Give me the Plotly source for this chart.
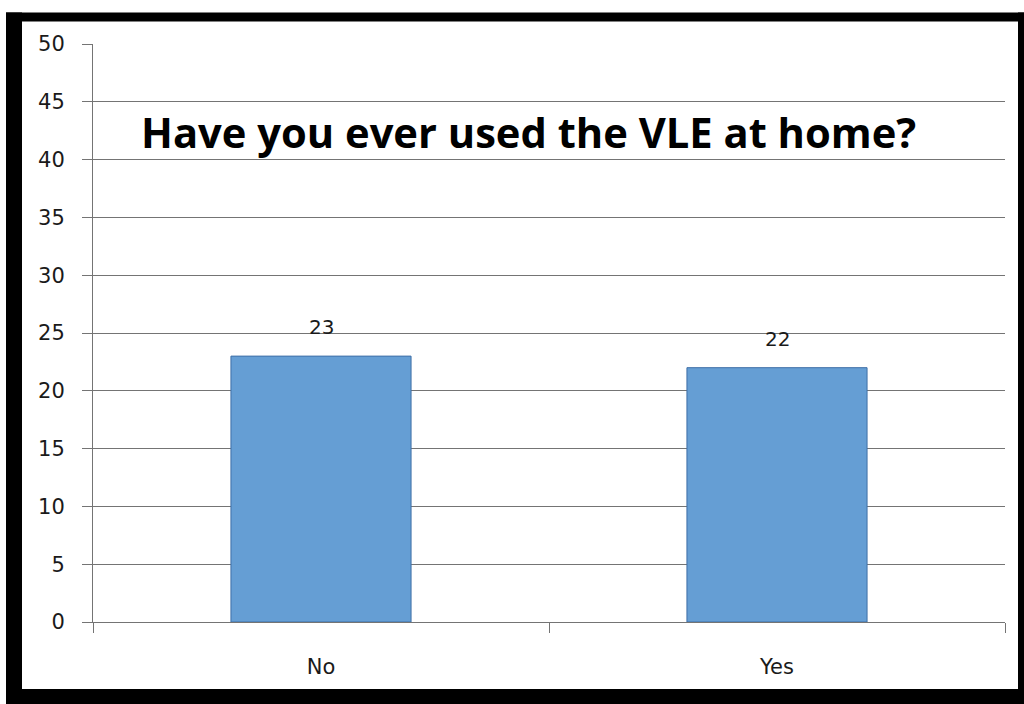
import plotly.graph_objects as go

# Survey answers and counts
categories = ["No", "Yes"]
counts = [23, 22]
y_ticks = [0, 5, 10, 15, 20, 25, 30, 35, 40, 45, 50]
title_text = "Have you ever used the VLE at home?"

W, H = 1024, 704
L, R, T, B = 93, 19, 43.5, 82
plot_w = W - L - R
plot_h = H - T - B


def px_x(px):
    return (px - L) / plot_w


def px_y(py):
    return (H - B - py) / plot_h


GRID = "#747474"
TEXT = "#1a1a1a"

fig = go.Figure()
fig.add_trace(go.Bar(
    x=categories,
    y=counts,
    width=0.395,
    marker=dict(color="#659ED4", line=dict(color="#3E6FA7", width=1)),
    hoverinfo="skip",
))

# value labels above each bar
for cat, val in zip(categories, counts):
    fig.add_annotation(
        x=cat, y=val, xref="x", yref="y",
        text=str(val), showarrow=False,
        yanchor="bottom", yshift=15,
        font=dict(family="DejaVu Sans", size=20, color=TEXT),
    )

# chart heading inside the plot area
fig.add_annotation(
    x=px_x(139), y=px_y(131), xref="paper", yref="paper",
    xanchor="left", yanchor="middle",
    text="<b>" + title_text + "</b>", showarrow=False,
    font=dict(family="Open Sans", size=41.7, color="#000000"),
)

# thick black frame around the picture
frame = [
    (6, 12, 22, 704),      # left
    (6, 12, 1024, 21),     # top
    (1018, 12, 1024, 704), # right
    (6, 689, 1024, 704),   # bottom
]
for x0, y0, x1, y1 in frame:
    fig.add_shape(
        type="rect", xref="paper", yref="paper",
        x0=px_x(x0), x1=px_x(x1), y0=px_y(y1), y1=px_y(y0),
        fillcolor="#000000", line=dict(width=0), layer="above",
    )

fig.update_layout(
    width=W, height=H,
    margin=dict(l=L, r=R, t=T, b=B, pad=0),
    paper_bgcolor="#ffffff",
    plot_bgcolor="#ffffff",
    showlegend=False,
    bargap=0.6,
    xaxis=dict(
        type="category",
        showline=True, linecolor=GRID, linewidth=1,
        ticks="outside", ticklen=10, tickcolor=GRID, tickwidth=1,
        tickson="boundaries",
        showgrid=False,
        tickfont=dict(family="DejaVu Sans", size=21, color=TEXT),
        ticklabelstandoff=26,
    ),
    yaxis=dict(
        range=[0, 50],
        tickvals=y_ticks,
        showline=True, linecolor=GRID, linewidth=1,
        ticks="outside", ticklen=10, tickcolor=GRID, tickwidth=1,
        showgrid=True, gridcolor=GRID, gridwidth=1,
        zeroline=False,
        tickfont=dict(family="DejaVu Sans", size=21, color=TEXT),
        ticklabelstandoff=13,
    ),
)

fig.write_html("out.html")
